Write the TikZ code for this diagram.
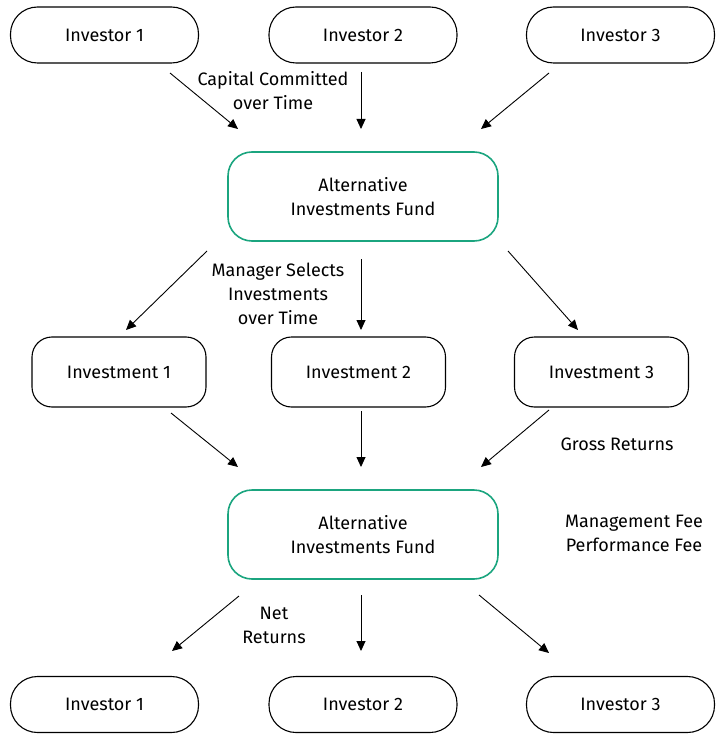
\documentclass[tikz,border=0pt]{standalone}
\usepackage{fontspec}
\setmainfont{Fira Sans}
\usetikzlibrary{arrows.meta}
\definecolor{fundgreen}{HTML}{1BA57F}
\begin{document}
\begin{tikzpicture}[x=1pt,y=-1pt,
  font=\fontsize{18}{24}\selectfont,
  inv/.style={draw, line width=1.1pt, rounded corners=27pt, minimum width=188pt, minimum height=56pt, inner sep=0pt},
  invest/.style={draw, line width=1.1pt, rounded corners=20pt, minimum width=174pt, minimum height=70pt, inner sep=0pt},
  fund/.style={draw=fundgreen, line width=1.6pt, rounded corners=24pt, minimum width=270pt, minimum height=89pt, inner sep=0pt, align=center},
  lbl/.style={align=center, inner sep=0pt},
  arr/.style={-{Triangle[length=10pt,width=9pt]}, line width=0.9pt}]
\useasboundingbox (0,0) rectangle (715,735);
% top investors
\node[inv] (i1) at (104.5,35) {Investor 1};
\node[inv] (i2) at (363,35) {Investor 2};
\node[inv] (i3) at (620.5,35) {Investor 3};
% fund 1
\node[fund] (f1) at (363,196.5) {Alternative\\Investments Fund};
% investments
\node[invest] (v1) at (119,372) {Investment 1};
\node[invest] (v2) at (358.5,372) {Investment 2};
\node[invest] (v3) at (601.5,372) {Investment 3};
% fund 2
\node[fund] (f2) at (363,534.5) {Alternative\\Investments Fund};
% bottom investors
\node[inv] (o1) at (104.5,704.5) {Investor 1};
\node[inv] (o2) at (363,704.5) {Investor 2};
\node[inv] (o3) at (620.5,704.5) {Investor 3};
% labels
\node[lbl] (lcap) at (273,91) {Capital Committed\\over Time};
\node[lbl] (lman) at (278,294) {Manager Selects\\Investments\\over Time};
\node[lbl] (lgross) at (617,444) {Gross Returns};
\node[lbl] (lfee) at (634,533) {Management Fee\\Performance Fee};
\node[lbl] (lnet) at (274,625) {Net\\Returns};
% arrow end coordinates
\coordinate (a1s) at (170,73);  \coordinate (a1e) at (238,129);
\coordinate (a2s) at (361,72);  \coordinate (a2e) at (361,129);
\coordinate (a3s) at (549,73);  \coordinate (a3e) at (481,129);
\coordinate (b1s) at (207,251); \coordinate (b1e) at (126,330);
\coordinate (b2s) at (361,259); \coordinate (b2e) at (361,330);
\coordinate (b3s) at (508,251); \coordinate (b3e) at (578,330);
\coordinate (c1s) at (171,413); \coordinate (c1e) at (238,467);
\coordinate (c2s) at (361,411); \coordinate (c2e) at (361,467);
\coordinate (c3s) at (549,410); \coordinate (c3e) at (481,467);
\coordinate (d1s) at (239,596); \coordinate (d1e) at (172,651);
\coordinate (d2s) at (361,595); \coordinate (d2e) at (361,651);
\coordinate (d3s) at (479,595); \coordinate (d3e) at (549,653);
\foreach \p in {a,b,c,d}{
  \foreach \q in {1,2,3}{
    \draw[arr] (\p\q s) -- (\p\q e);
  }
}
\end{tikzpicture}
\end{document}
